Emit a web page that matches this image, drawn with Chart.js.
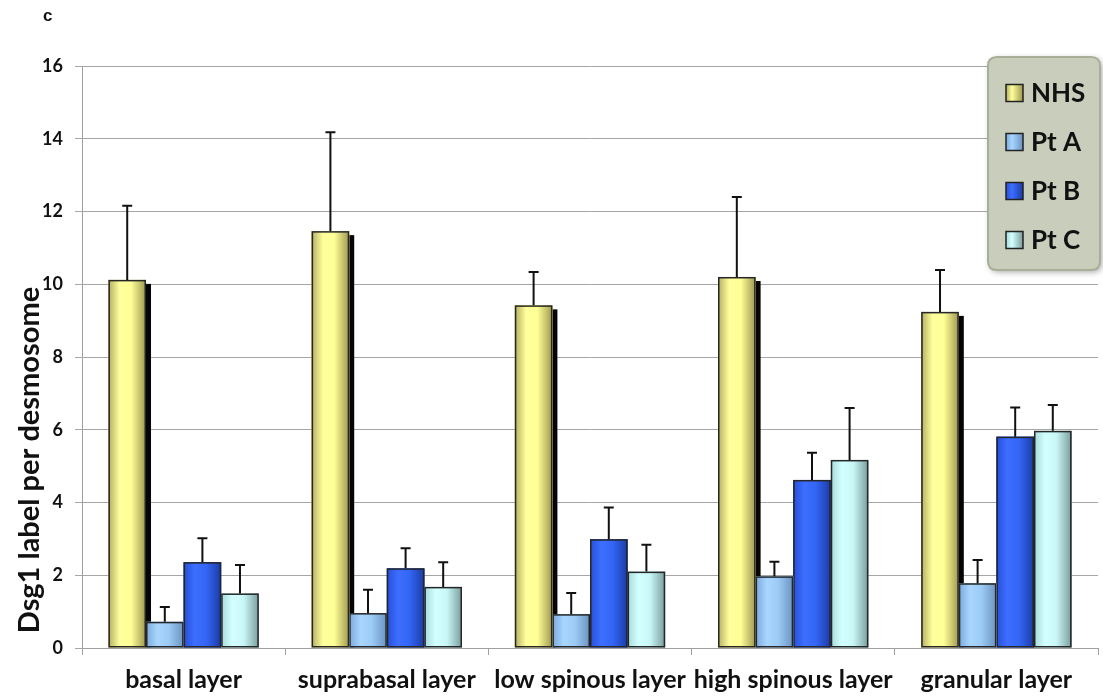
<!DOCTYPE html>
<html><head><meta charset="utf-8">
<script src="https://cdn.jsdelivr.net/npm/chart.js@4.4.1/dist/chart.umd.min.js"></script>
<style>html,body{margin:0;padding:0;background:#fff;overflow:hidden}#wrap{width:1103px;height:699px;position:relative}</style>
</head><body><div id="wrap"><canvas id="c" width="1103" height="699"></canvas></div>
<script>
const categories = ['basal layer','suprabasal layer','low spinous layer','high spinous layer','granular layer'];
const seriesNames = ['NHS','Pt A','Pt B','Pt C'];
const nhs = [10.12, 11.46, 9.42, 10.20, 9.24];
const ptA = [0.72, 0.96, 0.93, 1.97, 1.78];
const ptB = [2.36, 2.19, 2.99, 4.62, 5.81];
const ptC = [1.50, 1.68, 2.10, 5.17, 5.97];
const nhsErr = [2.04, 2.72, 0.92, 2.20, 1.15];
const ptAErr = [0.41, 0.64, 0.58, 0.40, 0.64];
const ptBErr = [0.66, 0.55, 0.87, 0.75, 0.80];
const ptCErr = [0.78, 0.68, 0.74, 1.43, 0.71];
const yTicks = [0, 2, 4, 6, 8, 10, 12, 14, 16];
const yTitle = 'Dsg1 label per desmosome';
const panelLabel = 'c';

const values = [nhs, ptA, ptB, ptC];
const errors = [nhsErr, ptAErr, ptBErr, ptCErr];
const baseColors = ['#FFFF99', '#A6D4FF', '#3A6BFF', '#D2FFFF'];
const gradStops = [
  ['#B3AD62', '#FFFF9C', '#FFFF96', '#9E984F'],
  ['#7AA8DC', '#A8D6FF', '#9CCBF5', '#6A92C2'],
  ['#2550D8', '#3D6EFF', '#3366F5', '#1B3BA6'],
  ['#A6DADA', '#D4FFFF', '#C8F6F6', '#7A9C9C']
];
const FONT = 'Lato, "Open Sans", sans-serif';

function barProps(el){ return el.getProps(['x','y','width','base'], true); }

const bar3d = {
  id: 'bar3d',
  beforeDatasetsDraw(chart){
    const ctx = chart.ctx;
    const meta = chart.getDatasetMeta(0);
    ctx.save();
    ctx.fillStyle = '#050505';
    meta.data.forEach(el => {
      const p = barProps(el);
      const r = p.x + p.width / 2;
      ctx.fillRect(r, p.y + 4, 5, p.base - p.y - 4);
    });
    ctx.restore();
  },
  afterDatasetDraw(chart, args){
    const i = args.index, ctx = chart.ctx, st = gradStops[i];
    ctx.save();
    args.meta.data.forEach(el => {
      const p = barProps(el);
      const l = p.x - p.width / 2, r = p.x + p.width / 2;
      const g = ctx.createLinearGradient(l, 0, r, 0);
      g.addColorStop(0, st[0]); g.addColorStop(0.3, st[1]);
      g.addColorStop(0.6, st[2]); g.addColorStop(1, st[3]);
      ctx.fillStyle = g;
      ctx.fillRect(l, p.y, p.width, p.base - p.y);
      ctx.strokeStyle = '#262626'; ctx.lineWidth = 1.5;
      ctx.strokeRect(l + 0.75, p.y + 0.75, p.width - 1.5, p.base - p.y - 1.5);
    });
    ctx.restore();
  }
};

const errorBars = {
  id: 'errorBars',
  afterDatasetsDraw(chart){
    const ctx = chart.ctx, ys = chart.scales.y;
    ctx.save();
    ctx.strokeStyle = '#111'; ctx.lineWidth = 2;
    chart.data.datasets.forEach((ds, i) => {
      const meta = chart.getDatasetMeta(i);
      meta.data.forEach((el, j) => {
        const p = barProps(el);
        const top = ys.getPixelForValue(ds.data[j] + errors[i][j]);
        ctx.beginPath();
        ctx.moveTo(p.x, p.y); ctx.lineTo(p.x, top);
        ctx.moveTo(p.x - 5, top); ctx.lineTo(p.x + 5, top);
        ctx.stroke();
      });
    });
    ctx.restore();
  }
};

function roundRect(ctx, x, y, w, h, r){
  ctx.beginPath();
  ctx.moveTo(x + r, y); ctx.lineTo(x + w - r, y); ctx.quadraticCurveTo(x + w, y, x + w, y + r);
  ctx.lineTo(x + w, y + h - r); ctx.quadraticCurveTo(x + w, y + h, x + w - r, y + h);
  ctx.lineTo(x + r, y + h); ctx.quadraticCurveTo(x, y + h, x, y + h - r);
  ctx.lineTo(x, y + r); ctx.quadraticCurveTo(x, y, x + r, y); ctx.closePath();
}

const decorations = {
  id: 'decorations',
  afterDraw(chart){
    const ctx = chart.ctx;
    ctx.save();
    // legend box
    const bx = 988, by = 57, bw = 112, bh = 213;
    ctx.shadowColor = 'rgba(0,0,0,0.35)'; ctx.shadowBlur = 6; ctx.shadowOffsetX = 2; ctx.shadowOffsetY = 2;
    roundRect(ctx, bx, by, bw, bh, 9);
    ctx.fillStyle = '#C8CEBB'; ctx.fill();
    ctx.shadowColor = 'transparent';
    ctx.lineWidth = 2; ctx.strokeStyle = '#A8AF99'; ctx.stroke();
    const rows = [93, 142, 191, 240];
    seriesNames.forEach((name, i) => {
      const cy = rows[i], mx = 1006, ms = 17;
      const g = ctx.createLinearGradient(mx, 0, mx + ms, 0);
      const st = gradStops[i];
      g.addColorStop(0, st[0]); g.addColorStop(0.35, st[1]); g.addColorStop(1, st[3]);
      ctx.fillStyle = g; ctx.fillRect(mx, cy - ms / 2, ms, ms);
      ctx.strokeStyle = '#222'; ctx.lineWidth = 1.5; ctx.strokeRect(mx, cy - ms / 2, ms, ms);
      ctx.fillStyle = '#111'; ctx.font = 'bold 26px ' + FONT;
      ctx.textAlign = 'left'; ctx.textBaseline = 'middle';
      ctx.fillText(name, 1031, cy + 1);
    });
    // y title
    ctx.translate(30, 460); ctx.rotate(-Math.PI / 2);
    ctx.fillStyle = '#111'; ctx.font = 'bold 29px ' + FONT;
    ctx.textAlign = 'center'; ctx.textBaseline = 'middle';
    ctx.fillText(yTitle, 0, 0);
    ctx.setTransform(1, 0, 0, 1, 0, 0);
    // panel label
    ctx.font = 'bold 17px "Liberation Sans", Arial, sans-serif';
    ctx.textAlign = 'left'; ctx.textBaseline = 'alphabetic';
    ctx.fillText(panelLabel, 43, 21);
    ctx.restore();
  }
};

function build(){
  new Chart(document.getElementById('c'), {
    type: 'bar',
    data: {
      labels: categories,
      datasets: values.map((v, i) => ({
        label: seriesNames[i], data: v,
        backgroundColor: baseColors[i], borderWidth: 0,
        categoryPercentage: 0.74, barPercentage: 1.0
      }))
    },
    options: {
      responsive: false, animation: false, devicePixelRatio: 1,
      layout: { padding: { top: 66, right: 5, left: 0, bottom: 0 } },
      plugins: { legend: { display: false }, tooltip: { enabled: false } },
      scales: {
        x: {
          grid: { display: true, drawOnChartArea: false, drawTicks: true, tickLength: 7, color: '#A0A0A0', offset: true },
          border: { display: true, color: '#A0A0A0' },
          ticks: { font: { family: FONT, weight: 'bold', size: 25 }, color: '#111', padding: 10, maxRotation: 0, minRotation: 0, autoSkip: false },
          afterFit(s){ s.height = 51; }
        },
        y: {
          min: 0, max: 16,
          afterBuildTicks(s){ s.ticks = yTicks.map(v => ({ value: v })); },
          ticks: { font: { family: FONT, weight: 'bold', size: 18 }, color: '#111', padding: 12 },
          grid: { color: '#A6A6A6', tickLength: 7 },
          border: { display: true, color: '#A0A0A0' },
          afterFit(s){ s.width = 82; }
        }
      }
    },
    plugins: [bar3d, errorBars, decorations]
  });
}
if (document.fonts && document.fonts.load) {
  Promise.all([document.fonts.load('bold 20px Lato'), document.fonts.load('bold 15px "Liberation Sans"')]).then(build, build);
} else build();
</script></body></html>
